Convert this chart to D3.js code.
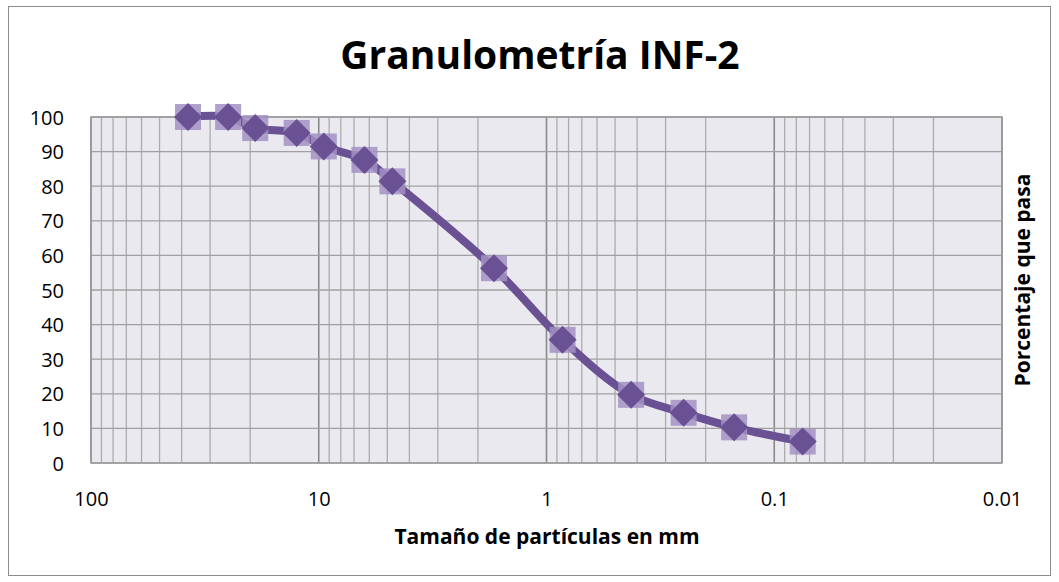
<!DOCTYPE html>
<html>
<head>
<meta charset="utf-8">
<script src="https://cdn.jsdelivr.net/npm/d3@7"></script>
<style>
  body { margin: 0; background: #fff; }
  svg text { font-family: "Open Sans", "Noto Sans", sans-serif; fill: #000; }
</style>
</head>
<body>
<div id="chart"></div>
<script>
// particle size (mm) and percent passing
const sizes = [37.5, 25, 19, 12.5, 9.5, 6.3, 4.75, 1.7, 0.85, 0.425, 0.25, 0.15, 0.075];
const passing = [100, 100, 96.8, 95.4, 91.5, 87.6, 81.4, 56.3, 35.6, 19.7, 14.5, 10.3, 6.2];
const xTicks = [100, 10, 1, 0.1, 0.01];
const yTicks = [0, 10, 20, 30, 40, 50, 60, 70, 80, 90, 100];

const width = 1059;
const height = 582;

const margin = { top: 117, right: 57, bottom: 119, left: 91 };
const plotW = width - margin.left - margin.right;
const plotH = height - margin.top - margin.bottom;

const data = sizes.map((s, i) => ({ size: s, pass: passing[i] }));

const svg = d3
  .select("#chart")
  .append("svg")
  .attr("width", width)
  .attr("height", height);

// outer frame
svg
  .append("rect")
  .attr("x", 8.5)
  .attr("y", 6.5)
  .attr("width", 1042)
  .attr("height", 569)
  .attr("fill", "#fff")
  .attr("stroke", "#8c8c8c");

const x = d3.scaleLog().domain([100, 0.01]).range([0, plotW]);
const y = d3.scaleLinear().domain([0, 100]).range([plotH, 0]);

const g = svg
  .append("g")
  .attr("transform", "translate(" + margin.left + "," + margin.top + ")");

g.append("rect")
  .attr("width", plotW)
  .attr("height", plotH)
  .attr("fill", "#ebe9f0");

// vertical grid: every k*10^n, decades darker
const isDecade = v => Math.abs(Math.log10(v) - Math.round(Math.log10(v))) < 1e-9;
g.selectAll(".vgrid")
  .data(x.ticks())
  .enter()
  .append("line")
  .attr("class", "vgrid")
  .attr("x1", d => x(d))
  .attr("x2", d => x(d))
  .attr("y1", 0)
  .attr("y2", plotH)
  .attr("stroke", d => (isDecade(d) ? "#8a8a8a" : "#acacac"))
  .attr("stroke-width", d => (isDecade(d) ? 1.6 : 1.3));

g.selectAll(".hgrid")
  .data(yTicks)
  .enter()
  .append("line")
  .attr("class", "hgrid")
  .attr("x1", 0)
  .attr("x2", plotW)
  .attr("y1", d => y(d))
  .attr("y2", d => y(d))
  .attr("stroke", "#a0a0a0")
  .attr("stroke-width", 1.3);

g.append("rect")
  .attr("width", plotW)
  .attr("height", plotH)
  .attr("fill", "none")
  .attr("stroke", "#9a9a9a")
  .attr("stroke-width", 1.3);

// axes labels
const yAxis = d3.axisLeft(y).tickValues(yTicks).tickSize(0).tickPadding(27);
g.append("g")
  .call(yAxis)
  .call(a => a.select(".domain").remove())
  .selectAll("text")
  .style("font-size", "20px")
  .attr("dy", "0.35em");

const xAxis = d3
  .axisBottom(x)
  .tickValues(xTicks)
  .tickSize(0)
  .tickPadding(29)
  .tickFormat(d => String(d));
g.append("g")
  .attr("transform", "translate(0," + plotH + ")")
  .call(xAxis)
  .call(a => a.select(".domain").remove())
  .selectAll("text")
  .style("font-size", "20px");

// line + markers
const line = d3
  .line()
  .x(d => x(d.size))
  .y(d => y(d.pass))
  .curve(d3.curveCatmullRom.alpha(0.5));

g.append("path")
  .datum(data)
  .attr("d", line)
  .attr("fill", "none")
  .attr("stroke", "#6a5193")
  .attr("stroke-width", 8)
  .attr("stroke-linejoin", "round");

const pts = g
  .selectAll(".pt")
  .data(data)
  .enter()
  .append("g")
  .attr("class", "pt")
  .attr("transform", d => "translate(" + x(d.size) + "," + y(d.pass) + ")");

pts.append("rect")
  .attr("x", -13)
  .attr("y", -13)
  .attr("width", 26)
  .attr("height", 26)
  .attr("fill", "#a291c3")
  .attr("opacity", 0.85);

pts.append("path")
  .attr("d", "M0,-14L14,0L0,14L-14,0Z")
  .attr("fill", "#6a5193");

// titles
svg.append("text")
  .attr("x", 540)
  .attr("y", 69)
  .attr("text-anchor", "middle")
  .style("font-size", "39px")
  .style("font-weight", "bold")
  .text("Granulometría INF-2");

svg.append("text")
  .attr("x", 547)
  .attr("y", 544)
  .attr("text-anchor", "middle")
  .style("font-size", "21px")
  .style("font-weight", "bold")
  .text("Tamaño de partículas en mm");

svg.append("text")
  .attr("transform", "translate(1030,280) rotate(-90)")
  .attr("text-anchor", "middle")
  .style("font-size", "21px")
  .style("font-weight", "bold")
  .text("Porcentaje que pasa");
</script>
</body>
</html>
